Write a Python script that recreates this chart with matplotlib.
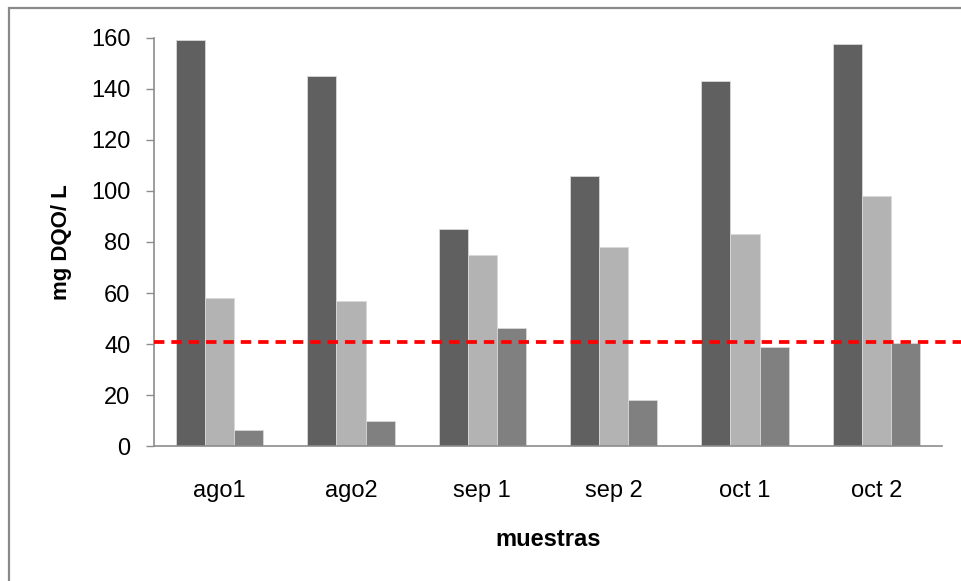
import matplotlib
matplotlib.use("Agg")
import matplotlib.pyplot as plt
from matplotlib import font_manager
from matplotlib.patches import Rectangle
import numpy as np

# Sample names and COD (mg DQO / L) per series
muestras = ["ago1", "ago2", "sep 1", "sep 2", "oct 1", "oct 2"]
serie_a = [159, 145, 85, 106, 143, 157.5]
serie_b = [58, 57, 75, 78, 83, 98]
serie_c = [6.5, 10, 46.5, 18, 39, 40.5]
limite = 41

available = {f.name for f in font_manager.fontManager.ttflist}
family = [f for f in ["Liberation Sans Narrow", "Liberation Sans", "DejaVu Sans"] if f in available]
plt.rcParams["font.family"] = family
plt.rcParams["lines.scale_dashes"] = False

W, H = 961, 581
fig = plt.figure(figsize=(W / 100, H / 100), dpi=100)
ax = fig.add_axes([154 / W, 1 - 446.3 / H, 788 / W, 408.6 / H])

x = np.arange(len(muestras))
bw = 0.221
colors = ["#606060", "#b3b3b3", "#808080"]
for i, (vals, c) in enumerate(zip([serie_a, serie_b, serie_c], colors)):
    ax.bar(x + (i - 1) * bw, vals, width=bw, color=c, edgecolor="#d8d8d8",
           linewidth=0.6, zorder=2)

ax.axhline(limite, xmin=0, xmax=(W - 154) / 788, color="#ff0000", lw=2.7,
           dashes=(7.5, 5.0), clip_on=False, zorder=3)

ax.set_xlim(-0.5, len(muestras) - 0.5)
ax.set_ylim(0, 160)
ax.set_yticks(np.arange(0, 161, 20))
ax.set_xticks(x)
ax.set_xticklabels(muestras)

for s in ["top", "right"]:
    ax.spines[s].set_visible(False)
for s in ["left", "bottom"]:
    ax.spines[s].set_color("#8c8c8c")
    ax.spines[s].set_linewidth(1.2)

ax.tick_params(axis="y", direction="out", length=6, width=1.0, color="#8c8c8c",
               pad=11, labelsize=17)
ax.tick_params(axis="x", length=0, pad=24, labelsize=17)

fig.text(548 / W, 1 - 540 / H, "muestras", ha="center", va="center",
         fontsize=17, fontweight="bold")
fig.text(62 / W, 1 - 242 / H, "mg DQO/ L", ha="center", va="center",
         rotation=90, fontsize=16, fontweight="bold")

# outer frame
fig.patches.append(Rectangle((9 / W, -0.1), 1.2, 1 - 8 / H + 0.1,
                             transform=fig.transFigure, fill=False,
                             edgecolor="#8a8a8a", linewidth=1.6))

fig.savefig("out.png", dpi=100)
